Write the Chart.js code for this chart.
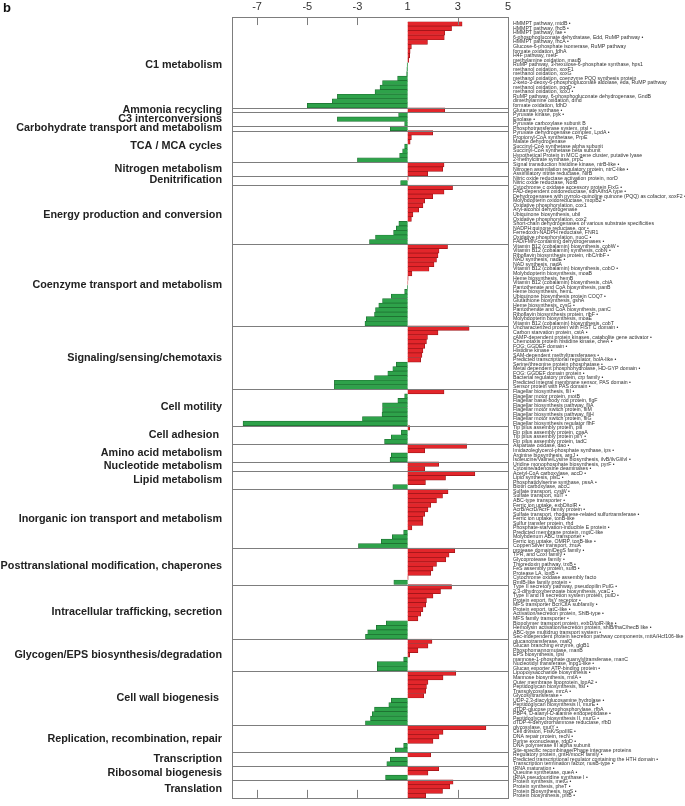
<!DOCTYPE html>
<html>
<head>
<meta charset="utf-8">
<script src="https://cdn.jsdelivr.net/npm/chart.js@4.4.1/dist/chart.umd.min.js"></script>
<style>
  body { margin: 0; background: #fff; }
  #wrap { position: relative; width: 685px; height: 806px; }
  #panel { position: absolute; left: 3px; top: 0px; font: bold 13px "Liberation Sans", Arial, sans-serif; color: #111; }
</style>
</head>
<body>
<div id="wrap">
  <canvas id="foldChart"></canvas>
  <div id="panel">b</div>
</div>
<script>
// functional groups, top to bottom, and how many genes each one holds
var groupNames = [
  'C1 metabolism', 'Ammonia recycling', 'C3 interconversions', 'Carbohydrate transport and metabolism',
  'TCA / MCA cycles', 'Nitrogen metabolism', 'Denitrification', 'Energy production and conversion',
  'Coenzyme transport and metabolism', 'Signaling/sensing/chemotaxis', 'Cell motility', 'Cell adhesion ',
  'Amino acid metabolism', 'Nucleotide metabolism', 'Lipid metabolism', 'Inorganic ion transport and metabolism',
  'Posttranslational modification, chaperones', 'Intracellular trafficking, secretion',
  'Glycogen/EPS biosynthesis/degradation', 'Cell wall biogenesis ', 'Replication, recombination, repair',
  'Transcription', 'Ribosomal biogenesis', 'Translation'
];
var groupSizes = [19, 1, 3, 1, 7, 3, 2, 13, 18, 14, 8, 4, 4, 2, 4, 13, 8, 12, 7, 12, 6, 3, 3, 4];

// gene names (right hand labels)
var geneLabels = [
  'HMMPT pathway, mtdB •', 'HMMPT pathway, fhcB •', 'HMMPT pathway, fae •',
  '6-phosphogluconate dehydratase, Edd, RuMP pathway •', 'HMMPT pathway, fhcA •',
  'Glucose-6-phosphate isomerase, RuMP pathway', 'formate oxidation, fdhA', 'H4F pathway, metF',
  'methylamine oxidation, mauB', 'RuMP pathway, 3-hexulose-6-phosphate synthase, hps1',
  'methanol oxidation, xoxF1', 'methanol oxidation, xoxG', 'methanol oxidation, coenzyme PQQ synthesis protein',
  '2-keto-3-deoxy-6-phosphogluconate aldolase, eda, RuMP pathway', 'methanol oxidation, pqqD •',
  'methanol oxidation, xoxJ •', 'RuMP pathway, 6-phosphogluconate dehydrogenase, GndB',
  'dimethylamine oxidation, dmd', 'formate oxidation, fdhD',
  'Glutamate synthase •',
  'Pyruvate kinase, pyk •', 'Enolase •', 'Pyruvate carboxylase subunit B',
  'Phosphotransferase system, ptsI •',
  'Pyruvate dehydrogenase complex, LpdA •', 'Propionyl-CoA synthetase, PrpE', 'Malate dehydrogenase',
  'Succinyl-CoA synthetase alpha subunit', 'Succinyl-CoA synthetase beta subunit',
  'Hypothetical Protein in MCC gene cluster, putative lyase', '2-methylcitrate synthase, prpC',
  'Signal transduction histidine kinase, ntrB-like •', 'Nitrogen assimilation regulatory protein, ntrC-like •',
  'Assimilatory nitrite reductase, NirB',
  'Nitric oxide reductase activation protein, norD', 'Nitric oxide reductase, NorB',
  'Cytochrome c oxidase accessory protein FixG •', 'FAD-dependent oxidoreductase, sdhA/frdA type •',
  'Dehydrogenases with pyrrolo-quinoline quinone (PQQ) as cofactor, xoxF2 •',
  'Molybdopterin oxidoreductase, mopB2 •', 'Oxidative phosphorylation, cox1', 'Aryl-alcohol dehydrogenase',
  'Ubiquinone biosynthesis, ubiI', 'Oxidative phosphorylation, cox2',
  'Short-chain dehydrogenases of various substrate specificities', 'NADPH:quinone reductase, qor •',
  'Ferredoxin-NADPH reductase, FNR1', 'Oxidative phosphorylation, nuoC •', 'FAD/FMN-containing dehydrogenases •',
  'Vitamin B12 (cobalamin) biosynthesis, cobW •', 'Vitamin B12 (cobalamin) synthesis, cobN •',
  'Riboflavin biosynthesis protein, ribC/ribF •', 'NAD synthesis, nadE •', 'NAD synthesis, nadA',
  'Vitamin B12 (cobalamin) biosynthesis, cobO •', 'Molybdopterin biosynthesis, moaB', 'Heme biosynthesis, hemB',
  'Vitamin B12 (cobalamin) biosynthesis, cbiA', 'Pantothenate and CoA biosynthesis, panB',
  'Heme biosynthesis, hemL', 'Ubiquinone biosynthesis protein COQ7 •', 'Glutathione biosynthesis, gshA',
  'Heme biosynthesis, cysG •', 'Pantothenate and CoA biosynthesis, panC', 'Riboflavin biosynthesis protein, ribF •',
  'Molybdopterin biosynthesis, moaE', 'Vitamin B12 (cobalamin) biosynthesis, cobT',
  'Uncharacterized protein with FIST C domain •', 'Carbon starvation protein, cstA •',
  'cAMP-dependent protein kinases, catabolite gene activator •', 'Chemotaxis protein histidine kinase, cheA •',
  'FOG: GGDEF domain •', 'Histidine kinase •', 'SAM-dependent methyltransferases •',
  'Predicted transcriptional regulator, bolA-like •', 'Serine/threonine protein phosphatase •',
  'Metal dependent phosphohydrolase, HD-GYP domain •', 'FOG: GGDEF domain protein •',
  'Bacterial regulatory protein, crp family •', 'Predicted integral membrane sensor, PAS domain •',
  'Sensor protein with PAS domain •',
  'Flagellar biosynthesis, fliI •', 'Flagellar motor protein, motB', 'Flagellar basal-body rod protein, flgF',
  'Flagellar biosynthesis pathway, fliA', 'Flagellar motor switch protein, fliM',
  'Flagellar biosynthesis pathway, fliH', 'Flagellar motor switch protein, fliG',
  'Flagellar biosynthesis regulator flhF',
  'Tip pilus assembly protein, pilI', 'Flp pilus assembly protein, cpaA', 'Tip pilus assembly protein pilY •',
  'Flp pilus assembly protein, tadC',
  'Aspartate oxidase, dao •', 'Imidazoleglycerol-phosphate synthase, ips •', 'Arginine biosynthesis, argJ •',
  'Isoleucine/Valine/Lysine biosynthesis, ilvB/ilvG/ilvI •',
  'Uridine monophosphate biosynthesis, pyrF •', 'Cytosine/adenosine deaminases •',
  'Acetyl-CoA carboxylase, accD •', 'Lipid synthesis, plsC •', 'Phosphatidylserine synthase, pssA •',
  'Biotin carboxylase, accC',
  'Sulfate transport, cysW •', 'Sulfate transport, sulT •', 'ABC-type transporter •',
  'Ferric ion uptake, exbD/tolR •', 'AcrB/AcrD/AcrF family protein •',
  'Sulfate transport, rhodanese-related sulfurtransferase •', 'Ferric ion uptake, tonB-like',
  'Sulfur transfer protein, rhd', 'Phosphate-starvation-inducible E protein •',
  'Predicted membrane protein, mgtC-like', 'Molybdenum ABC transporter •',
  'Ferric ion uptake, OMRP, tonB-like •', 'Copper/Silver transport, znuA',
  'protease domain/DegS family •', 'TPR, and CoxI family •', 'Glycoprotease family •',
  'Thioredoxin pathway, trxB •', 'FeS assembly protein, sufB •', 'Protease LA, lonB •',
  'Cytochrome oxidase assembly facto', 'RmlB-like family protein •',
  'Type II secretory pathway, pseudopilin PulG •', '2,3-dihydroxybenzoate biosynthesis, ycaC •',
  'Type II and III secretion system protein, pulD •', 'Protein export, ftsY receptor •',
  'MFS transporter Bcr/CflA subfamily •', 'Protein export, tatC-like •',
  'Activation/secretion protein, ShlB-type •', 'MFS family transporter •',
  'Biopolymer transport protein, exbD/tolR-like •',
  'Hemolysin activation/secretion protein, shlB/fhaC/hecB like •', 'ABC-type multidrug transport system •',
  'Sec-independent protein secretion pathway components, mttA/Hcf106-like',
  'glucanotransferase, malQ', 'Glucan branching enzyme, glgB1', 'Phosphomannomutase, manB',
  'EPS biosynthesis, lpsI', 'mannose-1-phosphate guanylyltransferase, manC',
  'Nucleotidyl transferase, lnpg1-like •', 'Glucan exporter ATP-binding protein •',
  'Lipopolysaccharide biosynthesis •', 'Mannose biosynthesis, rmlA •', 'Outer membrane lipoprotein, lppA2 •',
  'Peptidoglycan biosynthesis, ftsI •', 'Transglycosylase, mrcA •', 'Glycosyltransferase •',
  'UDP-2,3-diacylglucosamine hydrolase •', 'Peptidoglycan biosynthesis II, murE •',
  'dTDP-glucose pyrophosphorylase, rfbA', 'PBP4, D-alanyl-D-alanine endopeptidase •',
  'Peptidoglycan biosynthesis II, murG •', 'dTDP-4-dehydrorhamnose reductase, rfbD',
  'glycosylase, mutY •', 'Cell division, FtsK/SpoIIIE •', 'DNA repair protein, recN •',
  'Purine exonuclease, rdgD •', 'DNA polymerase III alpha subunit',
  'Site-specific recombinase/Phage integrase proteins',
  'Regulatory protein, gntR/mocR family •', 'Predicted transcriptional regulator containing the HTH domain •',
  'Transcription termination factor, nusB-type •',
  'tRNA maturation •', 'Queuine synthetase, queA •', 'tRNA pseudouridine synthase I •',
  'Protein synthesis, metG •', 'Protein synthesis, pheT •', 'Protein Biosynthesis, tsqS •',
  'Protein biosynthesis, pfrB •'
];

// fold change per gene (same order)
var foldChange = [
  3.17, 2.75, 2.48, 2.46, 1.79, 1.15, 1.1, 1.08, 1.04, -1.02, -1.03, -1.04, -1.4, -2.0, -2.1, -2.3, -3.8, -4.0, -5.0,
  2.48,
  -1.36, -3.8, -1.12,
  -1.69,
  2.0, 1.15, 1.1, -1.12, -1.2, -1.32, -3.0,
  2.45, 2.4, 1.8,
  1.02, -1.28,
  2.79, 2.45, 2.0, 1.68, 1.61, 1.44, 1.21, 1.15, -1.35, -1.45, -1.56, -2.28, -2.52,
  2.59, 2.25, 2.21, 2.15, 2.05, 1.85, 1.17, 1.02, 1.01, -1.01, -1.12, -1.65, -2.0, -2.15, -2.28, -2.32, -2.65, -2.7,
  3.45, 2.21, 1.79, 1.75, 1.68, 1.61, 1.57, 1.52, -1.45, -1.59, -1.79, -2.32, -3.92, -3.92,
  2.45, -1.12, -1.39, -2.0, -2.0, -2.02, -2.8, -7.56,
  1.08, -1.25, -1.65, -1.92,
  3.35, 1.68, -1.65, -1.7,
  2.24, 1.68,
  3.68, 2.51, 1.71, -1.59,
  2.61, 2.39, 2.15, 1.92, 1.81, 1.68, 1.61, 1.61, 1.17, -1.16, -1.61, -2.05, -2.96,
  2.88, 2.65, 2.52, 2.15, 2.01, 1.92, 1.02, -1.55,
  2.75, 2.31, 2.01, 1.75, 1.72, 1.61, 1.52, 1.41, -1.85, -2.25, -2.59, -2.68,
  1.97, 1.81, 1.41, 1.08, -1.16, -2.21, -2.21,
  2.92, 2.41, 1.81, 1.75, 1.72, 1.64, -1.65, -1.75, -2.32, -2.41, -2.48, -2.68,
  4.12, 2.41, 2.25, 2.01, -1.16, -1.49,
  1.92, -1.69, -1.83,
  2.24, 1.81, -1.88,
  2.81, 2.68, 2.39, 1.72
];

// tick labels of the broken axis (values between -1 and 1 are cut out)
var xTickLabels = [-7, -5, -3, 1, 3, 5];

// -1 and 1 share one position, so negative values are shifted by 2
function toAxis(v) { return v < 0 ? v + 2 : v; }
function fromAxis(t) { return t < 1 ? t - 2 : t; }

var FONT = '"Liberation Sans", Arial, sans-serif';

var groupPlugin = {
  id: 'groupPlugin',
  afterDatasetsDraw: function(chart) {
    var ctx = chart.ctx, a = chart.chartArea;
    var x = chart.scales.x, y = chart.scales.y;
    var rowH = (a.bottom - a.top) / geneLabels.length;
    var top = a.top - rowH;
    ctx.save();
    ctx.strokeStyle = '#7d7d7d';
    ctx.lineWidth = 1;
    // separators between groups + group names on the left
    var idx = 0;
    ctx.font = 'bold 10.8px ' + FONT;
    ctx.fillStyle = '#222';
    ctx.textAlign = 'right';
    ctx.textBaseline = 'middle';
    groupSizes.forEach(function(n, g) {
      var y0 = y.getPixelForValue(idx) - rowH / 2;
      var y1 = y.getPixelForValue(idx + n - 1) + rowH / 2;
      ctx.fillText(groupNames[g], a.left - 10, (y0 + y1) / 2);
      if (g < groupSizes.length - 1) {
        ctx.beginPath();
        ctx.moveTo(a.left, Math.round(y1) + 0.5);
        ctx.lineTo(a.right, Math.round(y1) + 0.5);
        ctx.stroke();
      }
      idx += n;
    });
    // frame
    ctx.strokeRect(Math.round(a.left) + 0.5, Math.round(top) + 0.5, Math.round(a.right - a.left), Math.round(a.bottom - top));
    // inner tick marks top and bottom
    [-5, -3, -1, 3].forEach(function(t) {
      var px = Math.round(x.getPixelForValue(t)) + 0.5;
      ctx.beginPath();
      ctx.moveTo(px, top); ctx.lineTo(px, top + 8);
      ctx.moveTo(px, a.bottom); ctx.lineTo(px, a.bottom - 8);
      ctx.stroke();
    });
    ctx.restore();
  }
};

var ctx = document.getElementById('foldChart').getContext('2d');
var foldChart = new Chart(ctx, {
  type: 'bar',
  data: {
    labels: geneLabels,
    datasets: [{
      data: foldChange.map(toAxis),
      base: 1,
      backgroundColor: foldChange.map(function(v) { return v < 0 ? '#2ea24a' : '#e2262b'; }),
      borderColor: foldChange.map(function(v) { return v < 0 ? '#1d6e30' : '#9c1418'; }),
      borderWidth: 0.7,
      barPercentage: 1,
      categoryPercentage: 1
    }]
  },
  options: {
    indexAxis: 'y',
    responsive: true,
    maintainAspectRatio: false,
    animation: false,
    layout: { padding: { left: 232, top: 0, bottom: 1, right: 0 } },
    plugins: {
      legend: { display: false },
      tooltip: { enabled: false }
    },
    scales: {
      x: {
        type: 'linear',
        position: 'top',
        min: -6,
        max: 5,
        grid: { display: false, drawTicks: false },
        border: { display: false },
        afterBuildTicks: function(scale) {
          scale.ticks = xTickLabels.map(function(v) { return { value: toAxis(v) }; });
        },
        afterFit: function(scale) { scale.height = 21.6; },
        ticks: {
          padding: 8,
          color: '#333',
          font: { family: FONT, size: 11 },
          callback: function(value) { return String(fromAxis(value)); }
        }
      },
      y: {
        type: 'category',
        position: 'right',
        grid: { display: false, drawTicks: false },
        border: { display: false },
        afterFit: function(scale) { scale.width = 177; },
        ticks: {
          autoSkip: false,
          padding: 5,
          color: '#333',
          font: { family: FONT, size: 5.2 }
        }
      }
    }
  },
  plugins: [groupPlugin]
});
</script>
</body>
</html>
